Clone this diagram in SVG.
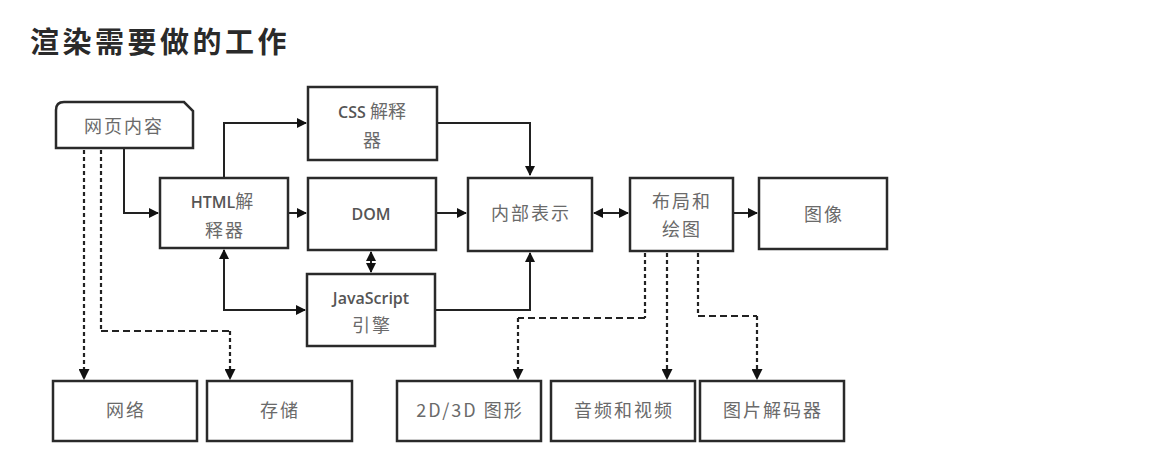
<svg xmlns="http://www.w3.org/2000/svg" width="1154" height="466" viewBox="0 0 1154 466">
<defs>
<style>
.box{fill:#fff;stroke:#2a2a2a;stroke-width:2.5}
.ln{fill:none;stroke:#222;stroke-width:2}
.dv{fill:none;stroke:#222;stroke-width:2.2;stroke-dasharray:4 3}
.dh{fill:none;stroke:#222;stroke-width:2;stroke-dasharray:7 4}
.t{font-family:"Noto Sans CJK SC","Liberation Sans",sans-serif;font-size:18px;letter-spacing:2px;fill:#6a6a6a;text-anchor:middle}
.s{font-family:"Open Sans","Noto Sans CJK SC",sans-serif;font-size:16px;font-weight:600;fill:#555;text-anchor:middle}
.title{font-family:"Noto Sans CJK SC",sans-serif;font-size:29px;font-weight:bold;fill:#2a2a2a;letter-spacing:3.5px}
</style>
<marker id="a" viewBox="0 0 10 10" refX="9" refY="5" markerWidth="5" markerHeight="5" orient="auto-start-reverse" markerUnits="strokeWidth">
<path d="M0,0 L10,5 L0,10 z" fill="#111"/>
</marker>
</defs>
<rect width="1154" height="466" fill="#fff"/>
<text class="title" x="30" y="53">渲染需要做的工作</text>

<g id="connectors">
<path class="ln" d="M124,148 V213 H158" marker-end="url(#a)"/>
<path class="ln" d="M224,178 V123 H306" marker-end="url(#a)"/>
<path class="ln" d="M288,213 H306" marker-end="url(#a)"/>
<path class="ln" d="M437,123 H530 V175" marker-end="url(#a)"/>
<path class="ln" d="M437,213 H466" marker-end="url(#a)"/>
<path class="ln" d="M594,213 H628" marker-start="url(#a)" marker-end="url(#a)"/>
<path class="ln" d="M733,213 H757" marker-end="url(#a)"/>
<path class="ln" d="M371,252 V272" marker-start="url(#a)" marker-end="url(#a)"/>
<path class="ln" d="M224,250 V310 H305" marker-start="url(#a)" marker-end="url(#a)"/>
<path class="ln" d="M435,310 H530 V253" marker-end="url(#a)"/>
<path class="dv" d="M84,150 V379" marker-end="url(#a)"/>
<path class="dv" d="M101,150 V331"/>
<path class="dh" d="M101,331 H230"/>
<path class="dv" d="M230,331 V379" marker-end="url(#a)"/>
<path class="dv" d="M645,253 V318"/>
<path class="dh" d="M645,318 H518"/>
<path class="dv" d="M518,318 V379" marker-end="url(#a)"/>
<path class="dv" d="M667,253 V379" marker-end="url(#a)"/>
<path class="dv" d="M698,253 V316"/>
<path class="dh" d="M698,316 H757"/>
<path class="dv" d="M757,316 V379" marker-end="url(#a)"/>
</g>

<g id="webcontent">
<path class="box" d="M56,148 V110 Q56,102 64,102 H184 L193,111 V148 Z"/>
<text class="t" x="124" y="133">网页内容</text>
</g>
<g id="css">
<rect class="box" x="308" y="87" width="129" height="73"/>
<text class="s" x="372" y="118">CSS <tspan font-family="Noto Sans CJK SC" font-weight="normal" font-size="18" fill="#6a6a6a">解释</tspan></text>
<text class="t" x="373" y="147">器</text>
</g>
<g id="html">
<rect class="box" x="160" y="178" width="128" height="70"/>
<text class="s" x="222" y="208">HTML<tspan font-family="Noto Sans CJK SC" font-weight="normal" font-size="18" fill="#6a6a6a">解</tspan></text>
<text class="t" x="225" y="237">释器</text>
</g>
<g id="dom">
<rect class="box" x="308" y="178" width="128" height="72"/>
<text class="s" x="371" y="220">DOM</text>
</g>
<g id="internal">
<rect class="box" x="468" y="178" width="124" height="73"/>
<text class="t" x="531" y="220">内部表示</text>
</g>
<g id="layout">
<rect class="box" x="630" y="178" width="103" height="73"/>
<text class="t" x="682" y="208">布局和</text>
<text class="t" x="682" y="236">绘图</text>
</g>
<g id="image">
<rect class="box" x="759" y="178" width="128" height="71"/>
<text class="t" x="824" y="221">图像</text>
</g>
<g id="js">
<rect class="box" x="307" y="274" width="128" height="72"/>
<text class="s" x="371" y="304">JavaScript</text>
<text class="t" x="372" y="332">引擎</text>
</g>
<g id="network">
<rect class="box" x="53" y="381" width="144" height="60"/>
<text class="t" x="126" y="417">网络</text>
</g>
<g id="storage">
<rect class="box" x="207" y="381" width="145" height="60"/>
<text class="t" x="280" y="417">存储</text>
</g>
<g id="graphics">
<rect class="box" x="397" y="381" width="144" height="60"/>
<text class="t" x="470" y="417">2D/3D 图形</text>
</g>
<g id="av">
<rect class="box" x="551" y="381" width="144" height="60"/>
<text class="t" x="624" y="417">音频和视频</text>
</g>
<g id="decoder">
<rect class="box" x="700" y="381" width="144" height="60"/>
<text class="t" x="773" y="417">图片解码器</text>
</g>
</svg>
